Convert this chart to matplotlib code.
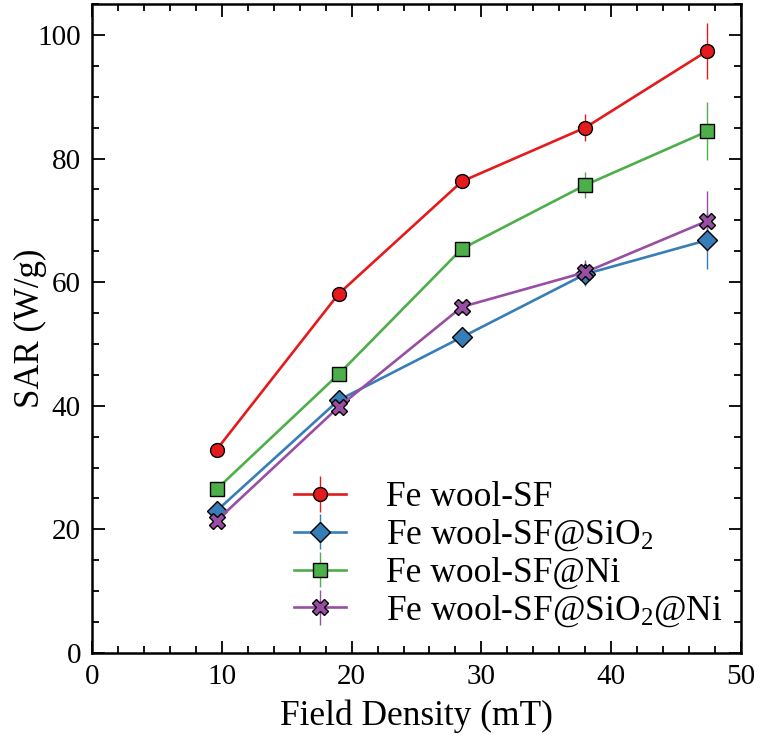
import matplotlib
matplotlib.use("Agg")
import matplotlib.pyplot as plt
from matplotlib.ticker import MultipleLocator

plt.rcParams['font.family'] = ['Liberation Serif', 'DejaVu Serif']
plt.rcParams['mathtext.fontset'] = 'custom'
plt.rcParams['mathtext.rm'] = 'Liberation Serif'
plt.rcParams['mathtext.it'] = 'Liberation Serif:italic'

field = [9.6, 19.0, 28.5, 38.0, 47.4]

sar_sf = [32.9, 58.1, 76.3, 85.0, 97.4]
err_sf = [0.8, 1.0, 1.0, 2.2, 4.6]

sar_sio2 = [23.0, 40.9, 51.1, 61.3, 66.8]
err_sio2 = [0.8, 1.0, 1.0, 2.0, 4.6]

sar_ni = [26.5, 45.1, 65.4, 75.7, 84.4]
err_ni = [0.8, 1.0, 1.0, 2.1, 4.7]

sar_sio2_ni = [21.4, 39.8, 56.0, 61.6, 69.9]
err_sio2_ni = [0.8, 1.0, 1.0, 2.0, 4.8]

labels = ["Fe wool-SF", "Fe wool-SF@SiO$_2$", "Fe wool-SF@Ni", "Fe wool-SF@SiO$_2$@Ni"]
colors = ["#E41A1C", "#377EB8", "#4DAF4A", "#984EA3"]
markers = ["o", "D", "s", "X"]
msizes = [10, 10, 9.5, 11]

fig = plt.figure(figsize=(7.61, 7.42), dpi=100)
ax = fig.add_axes([92/761, 1-653/742, (741-92)/761, (653-4)/742])

series = [(sar_sf, err_sf), (sar_sio2, err_sio2), (sar_ni, err_ni), (sar_sio2_ni, err_sio2_ni)]
for (y, e), lab, c, m, ms in zip(series, labels, colors, markers, msizes):
    ax.errorbar(field, y, yerr=e, color=c, ecolor=c, elinewidth=1.0, capsize=0,
                marker=m, markersize=ms, markerfacecolor=c, markeredgecolor='black',
                markeredgewidth=1.0, linewidth=1.9, label=lab)

ax.set_xlim(0, 50)
ax.set_ylim(0, 105)
ax.xaxis.set_major_locator(MultipleLocator(10))
ax.xaxis.set_minor_locator(MultipleLocator(2))
ax.yaxis.set_major_locator(MultipleLocator(20))
ax.yaxis.set_minor_locator(MultipleLocator(5))
ax.tick_params(which='both', direction='in', top=True, right=True, labelsize=21, width=1.3)
ax.tick_params(which='major', length=9, pad=8)
ax.tick_params(which='minor', length=5)
for s in ax.spines.values():
    s.set_linewidth(1.8)

ax.set_xlabel("Field Density (mT)", fontsize=25.5, labelpad=7)
ax.set_ylabel("SAR (W/g)", fontsize=25)
ax.yaxis.set_label_coords(-0.069, 0.5)

leg = ax.legend(loc='lower left', bbox_to_anchor=(0.29, 0.015), frameon=False, fontsize=25.5,
                handlelength=1.45, handletextpad=1.15, labelspacing=0.1, borderaxespad=0)

fig.savefig("out.png", dpi=100)
